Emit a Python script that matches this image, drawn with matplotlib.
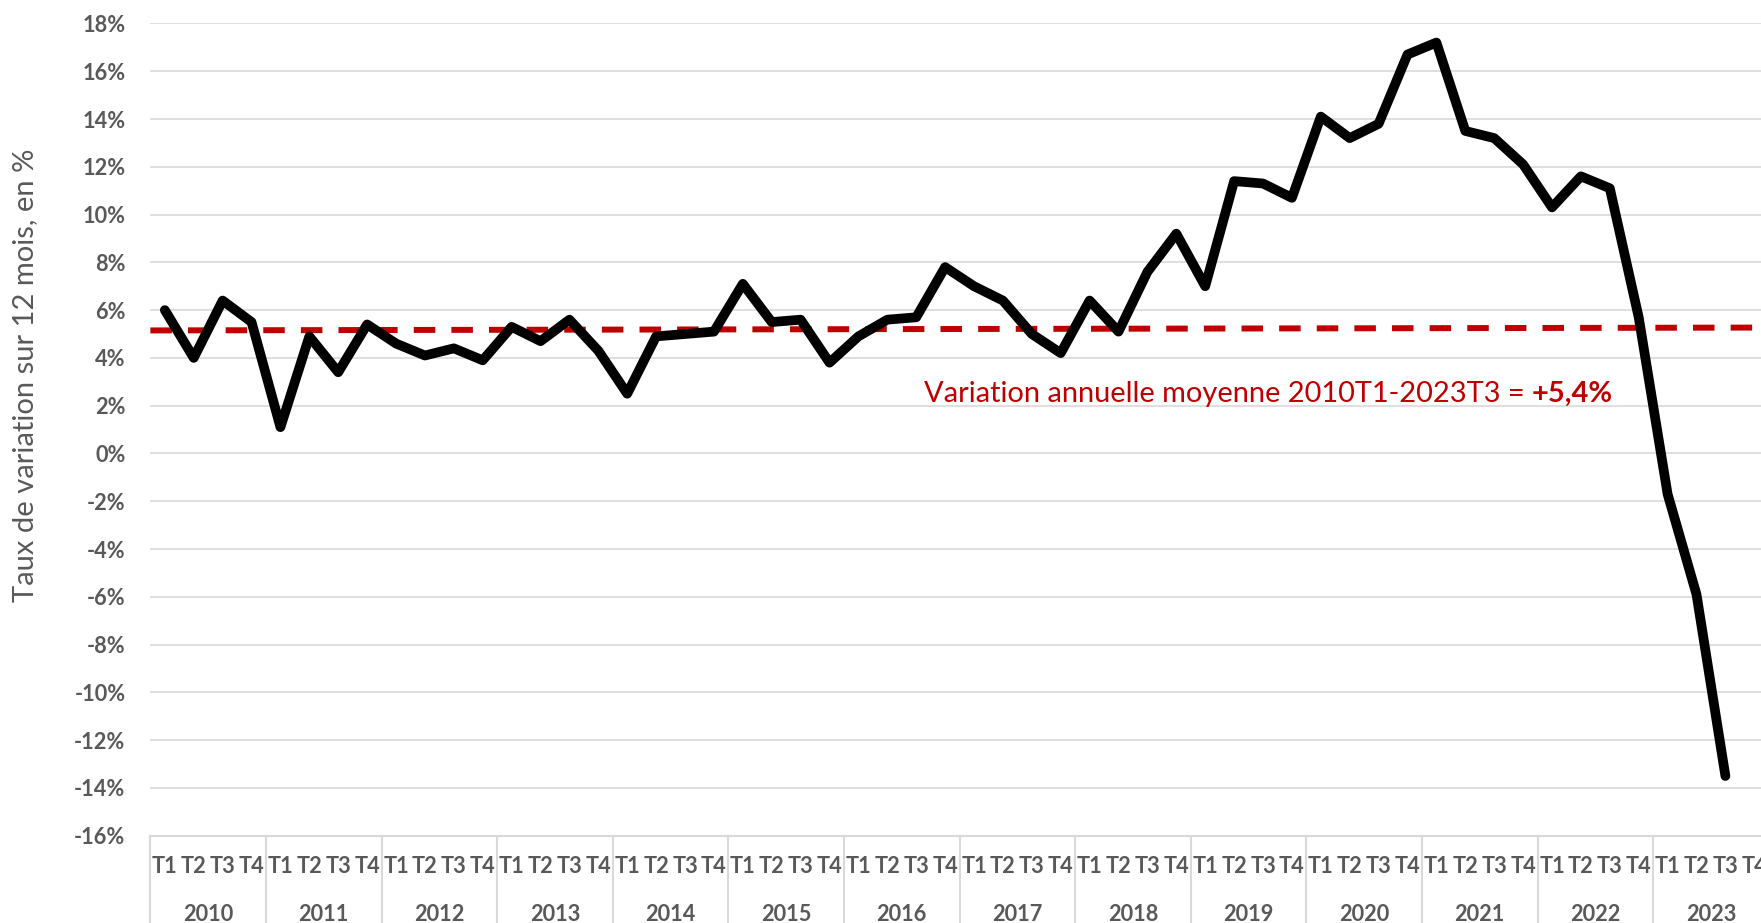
import matplotlib
matplotlib.use("Agg")
import matplotlib.pyplot as plt
import matplotlib.transforms as mtransforms

plt.rcParams['font.family'] = ['Lato', 'DejaVu Sans']

# ---- data ----
years = [str(y) for y in range(2010, 2024)]
quarters = ["T1", "T2", "T3", "T4"]
values = [
    6.0, 4.0, 6.4, 5.5,      # 2010
    1.1, 4.9, 3.4, 5.4,      # 2011
    4.6, 4.1, 4.4, 3.9,      # 2012
    5.3, 4.7, 5.6, 4.3,      # 2013
    2.5, 4.9, 5.0, 5.1,      # 2014
    7.1, 5.5, 5.6, 3.8,      # 2015
    4.9, 5.6, 5.7, 7.8,      # 2016
    7.0, 6.4, 5.0, 4.2,      # 2017
    6.4, 5.1, 7.6, 9.2,      # 2018
    7.0, 11.4, 11.3, 10.7,   # 2019
    14.1, 13.2, 13.8, 16.7,  # 2020
    17.2, 13.5, 13.2, 12.1,  # 2021
    10.3, 11.6, 11.1, 5.7,   # 2022
    -1.7, -5.9, -13.5,       # 2023
]
mean_line = [5.15, 5.27]  # dashed reference line, left and right ends
y_ticks = list(range(-16, 19, 2))
ylabel = "Taux de variation sur 12 mois, en %"
note_text = "Variation annuelle moyenne 2010T1-2023T3 = "
note_value = "+5,4%"

GRAY = "#595959"
GRID = "#D9D9D9"
RED = "#C00000"

n_cat = len(years) * len(quarters)
cat_labels = [q for _ in years for q in quarters]

fig = plt.figure(figsize=(17.61, 9.23), dpi=100)
ax = fig.add_axes([0.0854, 0.0946, 0.919, 0.880])

ax.set_xlim(-0.5, n_cat - 0.5)
ax.set_ylim(y_ticks[0], y_ticks[-1])

# gridlines
ax.set_yticks(y_ticks, labels=[f"{t}%" for t in y_ticks], fontweight="bold")
ax.yaxis.grid(True, color=GRID, lw=1.2)
ax.set_axisbelow(True)
ax.tick_params(axis="y", length=0, pad=18, labelsize=15.7, labelcolor=GRAY)
ax.set_xticks([])
for s in ["top", "right", "left"]:
    ax.spines[s].set_visible(False)
ax.spines["bottom"].set_color(GRID)
ax.spines["bottom"].set_linewidth(1.5)

# dashed mean line
ax.plot([-0.5, n_cat - 0.5], mean_line, color=RED, lw=4.3,
        dashes=(3.6, 2.7), zorder=2)

# main line
ax.plot(range(len(values)), values, color="black", lw=7,
        solid_joinstyle="round", solid_capstyle="round", zorder=3)

# category labels
trans = mtransforms.blended_transform_factory(ax.transData, ax.transAxes)
for i, lab in enumerate(cat_labels):
    ax.annotate(lab, xy=(i, 0), xycoords=trans, xytext=(0, -37.6),
                textcoords="offset pixels", ha="center", va="baseline",
                fontsize=15.7, fontweight="bold", color=GRAY,
                annotation_clip=False)
for k, y in enumerate(years):
    ax.annotate(y, xy=(4 * k + 1.5, 0), xycoords=trans, xytext=(0, -85),
                textcoords="offset pixels", ha="center", va="baseline",
                fontsize=15.7, fontweight="bold", color=GRAY,
                annotation_clip=False)
for k in range(len(years) + 1):
    b = 4 * k - 0.5
    ax.plot([b, b], [0, -0.15], transform=trans, clip_on=False,
            color=GRID, lw=1.5)

# note
t1 = ax.text(26.26, 2.16, note_text, color=RED, fontsize=20.9,
             ha="left", va="baseline")
ax.annotate(note_value, xy=(1, 0), xycoords=t1, ha="left", va="bottom",
            color=RED, fontsize=20.9, fontweight="bold")

fig.text(0.0142, 0.593, ylabel, rotation=90, ha="center", va="center",
         fontsize=21, color=GRAY)

fig.savefig("out.png", dpi=100)
